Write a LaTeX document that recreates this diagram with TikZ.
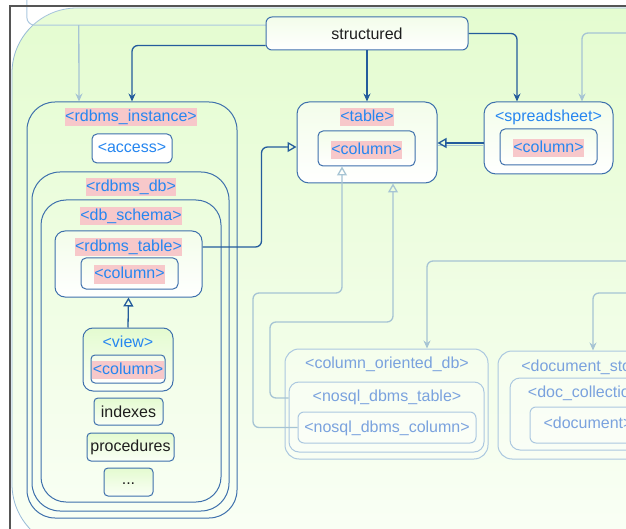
\documentclass[tikz,border=0pt]{standalone}
\usepackage{fontspec}
\setmainfont{Liberation Sans}
\usetikzlibrary{arrows.meta,calc}

\definecolor{boxblue}{RGB}{62,112,172}
\definecolor{linkblue}{RGB}{36,92,156}
\definecolor{txtblue}{RGB}{38,134,240}
\definecolor{pinkhl}{RGB}{247,200,202}
\definecolor{bgtop}{RGB}{228,252,208}
\definecolor{bgbot}{RGB}{250,255,246}
\definecolor{ink}{RGB}{30,30,30}
\definecolor{fadeline}{RGB}{166,196,212}
\definecolor{fadebox}{RGB}{172,200,224}
\definecolor{fadetxt}{RGB}{122,162,222}
\definecolor{framegray}{RGB}{85,85,85}
\definecolor{greenfill}{RGB}{228,251,208}
\definecolor{palefill}{RGB}{243,253,234}
\definecolor{bgedge}{RGB}{150,185,215}

\newcommand\lblfont{\fontsize{16}{19}\selectfont}

\begin{document}
\begin{tikzpicture}[x=1pt,y=-1pt,
  container/.style={draw=boxblue, line width=1pt, rounded corners=#1, inner sep=0pt},
  container/.default=10pt,
  whitebox/.style={container=#1, top color=palefill, bottom color=white},
  whitebox/.default=6pt,
  greenbox/.style={container=4pt, top color=greenfill, bottom color=bgbot},
  fadedbox/.style={draw=fadebox, line width=1pt, rounded corners=#1, inner sep=0pt,
    fill=white, fill opacity=0.25},
  fadedbox/.default=10pt,
  lbl/.style={text=txtblue, font=\lblfont, inner xsep=0.5pt, inner ysep=1.5pt,
    text height=12pt, text depth=3.5pt},
  hl/.style={lbl, fill=pinkhl},
  flbl/.style={lbl, text=fadetxt},
  plain/.style={text=ink, font=\lblfont, inner sep=0pt},
  conn/.style={draw=linkblue, line width=1.3pt, rounded corners=6pt},
  feed/.style={conn, -{Stealth[length=8pt,width=7pt]}},
  gen/.style={conn, -{Triangle[open,length=9pt,width=10pt]}},
  fconn/.style={draw=fadeline, line width=1.3pt, rounded corners=6pt},
  ffeed/.style={fconn, -{Stealth[length=8pt,width=7pt]}},
  fgen/.style={fconn, -{Triangle[open,length=9pt,width=10pt]}},
]
\useasboundingbox (0,0) rectangle (626,529);
\clip (0,0) rectangle (626,529);
\fill[white] (0,0) rectangle (626,529);

% large shaded area
\draw[bgedge, line width=0.8pt, top color=bgtop, bottom color=bgbot, rounded corners=65pt]
  (12,8) rectangle (720,549);

% faint box at the top, its right part hidden under the structured node
\node[inner sep=0pt, fill=white, fill opacity=0.15, minimum width=273pt, minimum height=45pt] (upper) at (163.5,2.5) {};
\draw[fadebox, line width=1pt, rounded corners=8pt]
  (upper.north west) -- (upper.south west) -- (upper.south east);

% page frame
\draw[framegray, line width=2pt] (9.5,540) -- (9.5,6.5) -- (640,6.5);

% ---- relational side
\node[container=28pt, minimum width=210pt, minimum height=416pt] (rdbms_instance) at (132,310) {};
\node[hl] (rdbms_instance_lbl) at (131,117) {<rdbms\_instance>};
\node[container=5pt, fill=white, minimum width=80pt, minimum height=29pt] (access) at (132,148.5) {};
\node[lbl] (access_lbl) at (access) {<access>};

\node[container=28pt, minimum width=197pt, minimum height=339pt] (rdbms_db) at (130.5,341.5) {};
\node[hl] (rdbms_db_lbl) at (131,187) {<rdbms\_db>};

\node[container=25pt, minimum width=180pt, minimum height=302pt] (db_schema) at (131,351) {};
\node[hl] (db_schema_lbl) at (131,216) {<db\_schema>};

\node[whitebox=10pt, minimum width=147pt, minimum height=66pt] (rdbms_table) at (128.5,264) {};
\node[hl] (rdbms_table_lbl) at (128.5,247) {<rdbms\_table>};
\node[whitebox=5pt, minimum width=97pt, minimum height=31pt] (rt_column) at (129.5,273.5) {};
\node[hl] (rt_column_lbl) at (129.5,274.5) {<column>};

\node[container=10pt, top color=greenfill, bottom color=bgbot, minimum width=90pt, minimum height=63pt] (view) at (128,359.5) {};
\node[lbl] (view_lbl) at (128,343) {<view>};
\node[whitebox=4pt, minimum width=74pt, minimum height=28pt] (view_column) at (128,369) {};
\node[hl] (view_column_lbl) at (128,370) {<column>};

\node[greenbox, minimum width=69pt, minimum height=27pt] (indexes) at (128.5,411.5) {};
\node[plain] (indexes_lbl) at (128.5,412) {indexes};
\node[greenbox, minimum width=87pt, minimum height=28pt] (procedures) at (130.5,447) {};
\node[plain] (procedures_lbl) at (130.5,447.5) {procedures};
\node[greenbox, minimum width=49pt, minimum height=28pt] (more) at (128.5,482) {};
\node[plain] (more_lbl) at (128.5,484) {...};

% ---- generic table and spreadsheet
\node[whitebox=6pt, minimum width=202pt, minimum height=33pt] (structured) at (367,33.5) {};
\node[plain] (structured_lbl) at (367,34) {structured};

\node[whitebox=12pt, minimum width=140pt, minimum height=81pt] (table) at (367,142.5) {};
\node[hl] (table_lbl) at (367,117) {<table>};
\node[whitebox=5pt, minimum width=97pt, minimum height=35pt] (t_column) at (366.5,148.5) {};
\node[hl] (t_column_lbl) at (366.5,150) {<column>};

\node[whitebox=12pt, minimum width=129pt, minimum height=72pt] (spreadsheet) at (548.5,138) {};
\node[lbl] (spreadsheet_lbl) at (548.5,117) {<spreadsheet>};
\node[whitebox=5pt, minimum width=97pt, minimum height=36pt] (s_column) at (548.5,147) {};
\node[hl] (s_column_lbl) at (548.5,148) {<column>};

% ---- faded NoSQL side
\node[fadedbox=14pt, minimum width=203pt, minimum height=110pt] (column_oriented_db) at (386.5,404) {};
\node[flbl] (column_oriented_db_lbl) at (387,364) {<column\_oriented\_db>};
\node[fadedbox=10pt, minimum width=195pt, minimum height=70pt] (nosql_dbms_table) at (386.5,417) {};
\node[flbl] (nosql_dbms_table_lbl) at (387,397) {<nosql\_dbms\_table>};
\node[fadedbox=6pt, minimum width=178pt, minimum height=31pt] (nosql_dbms_column) at (387,427.5) {};
\node[flbl] (nosql_dbms_column_lbl) at (387,428) {<nosql\_dbms\_column>};

\node[fadedbox=14pt, minimum width=180pt, minimum height=108pt] (document_store) at (588,405) {};
\node[flbl] (document_store_lbl) at (588,367) {<document\_store>};
\node[fadedbox=10pt, minimum width=156pt, minimum height=72pt] (doc_collection) at (588,414) {};
\node[flbl] (doc_collection_lbl) at (588,393) {<doc\_collection>};
\node[fadedbox=6pt, minimum width=116pt, minimum height=36pt] (document) at (588,425) {};
\node[flbl] (document_lbl) at (588,424) {<document>};

% ---- connectors
\draw[feed] ([yshift=5pt]structured.south west) -| (rdbms_instance.north);
\draw[feed] (structured.south) -- (table.north);
\draw[feed] (structured.east) -| ([xshift=-31.5pt]spreadsheet.north);

\draw[gen] ([yshift=17pt]rdbms_table.east) -- ++(59,0) |- ([yshift=-4.5pt]table.west);
\draw[gen] (view.north) -- (rdbms_table.south);
\coordinate (ss_out) at ([yshift=-5pt]spreadsheet.west);
\draw[fadeline, line width=1.3pt] ([yshift=-2.5pt]ss_out) -- ([yshift=-2.5pt]ss_out -| table.east);
\draw[gen] (ss_out) -- (ss_out -| table.east);

% faded connectors
\coordinate (col_bend) at (253,293);
\draw[fgen] (nosql_dbms_column.west) -| (col_bend) -| ([xshift=-24.5pt]t_column.south);
\coordinate (tab_bend) at (270,322);
\draw[fgen] ([yshift=19pt]nosql_dbms_table.west) -| (tab_bend) -| ([xshift=26pt]table.south);

\draw[ffeed] ([xshift=52pt]upper.south west) -- ([xshift=-53pt]rdbms_instance.north);
\coordinate (feed_a) at (640,33);
\draw[ffeed] (feed_a) -| ([xshift=33.5pt]spreadsheet.north);
\coordinate (feed_b) at (640,261);
\draw[ffeed] (feed_b) -| ([xshift=40.5pt]column_oriented_db.north);
\coordinate (feed_c) at (640,293);
\draw[ffeed] (feed_c) -| ([xshift=5pt]document_store.north);
\end{tikzpicture}
\end{document}
